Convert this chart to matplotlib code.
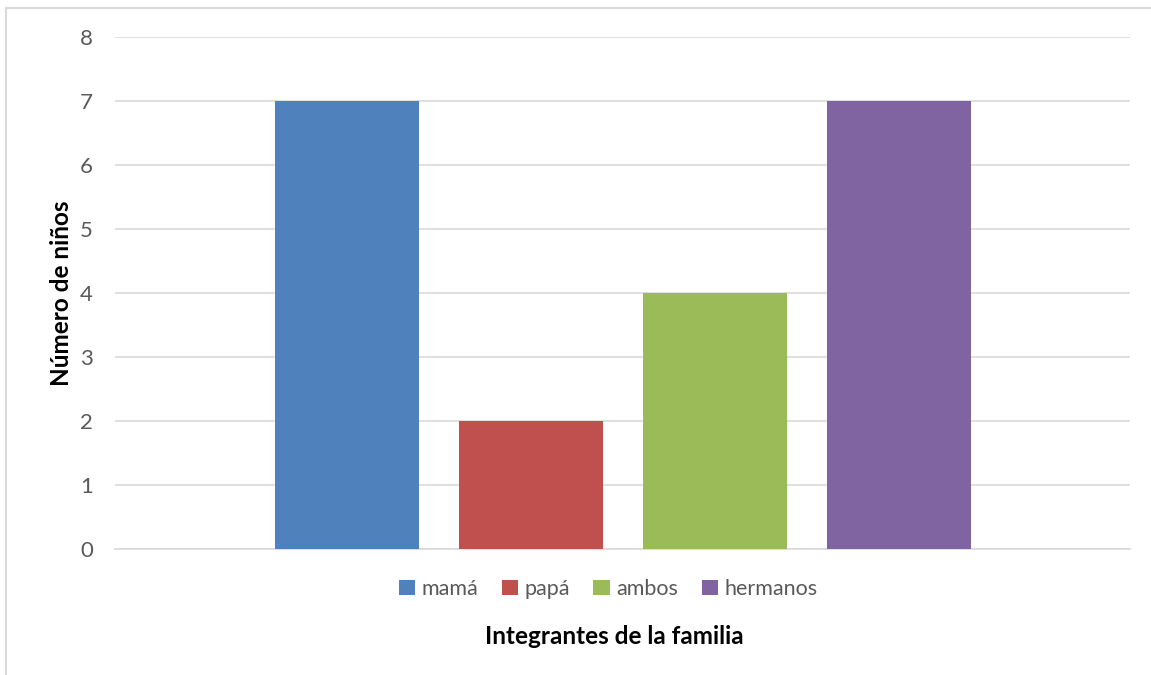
import matplotlib.pyplot as plt
from matplotlib.patches import Rectangle

plt.rcParams['font.family'] = ['Lato', 'DejaVu Sans']

# datos del gráfico
categorias = ['mamá', 'papá', 'ambos', 'hermanos']
valores = [7, 2, 4, 7]
colores = ['#4f81bd', '#c0504d', '#9bbb59', '#8064a2']
yticks = [0, 1, 2, 3, 4, 5, 6, 7, 8]

fig = plt.figure(figsize=(11.51, 6.75), dpi=100)
W, H = 1151, 675

# borde gris del área del gráfico
fig.patches.append(Rectangle((6 / W, -0.05), 1.2, 1 - 7.5 / H + 0.05,
                             transform=fig.transFigure, fill=False,
                             edgecolor='#d9d9d9', linewidth=1.5))

ax = fig.add_axes([115 / W, 1 - 549 / H, (1130 - 115) / W, (549 - 37) / H])

posiciones = list(range(len(categorias)))
barras = ax.bar(posiciones, valores, width=144 / 184, color=colores,
                label=categorias, zorder=3)

span = 1015 / 184
ax.set_xlim(1.5 - span / 2, 1.5 + span / 2)
ax.set_ylim(0, 8)
ax.set_yticks(yticks)
ax.set_xticks([])
ax.yaxis.grid(True, color='#d9d9d9', linewidth=1.2, zorder=0)
for s in ax.spines.values():
    s.set_visible(False)
ax.spines['bottom'].set_visible(True)
ax.spines['bottom'].set_color('#d9d9d9')
ax.spines['bottom'].set_linewidth(1.2)
ax.tick_params(axis='y', length=0, pad=16, labelsize=16, labelcolor='#595959')

ax.set_ylabel('Número de niños', fontsize=17.5, fontweight='bold', labelpad=5)

leg = fig.legend(barras, categorias, loc='center', bbox_to_anchor=(608 / W, 1 - 589 / H),
                 ncol=4, frameon=False, fontsize=15.5, handlelength=0.75, handleheight=0.75,
                 handletextpad=0.3, columnspacing=1.1)
for t in leg.get_texts():
    t.set_color('#595959')

fig.text(614 / W, 1 - 636 / H, 'Integrantes de la familia', ha='center', va='center',
         fontsize=17.5, fontweight='bold')

fig.savefig('out.png', dpi=100)
